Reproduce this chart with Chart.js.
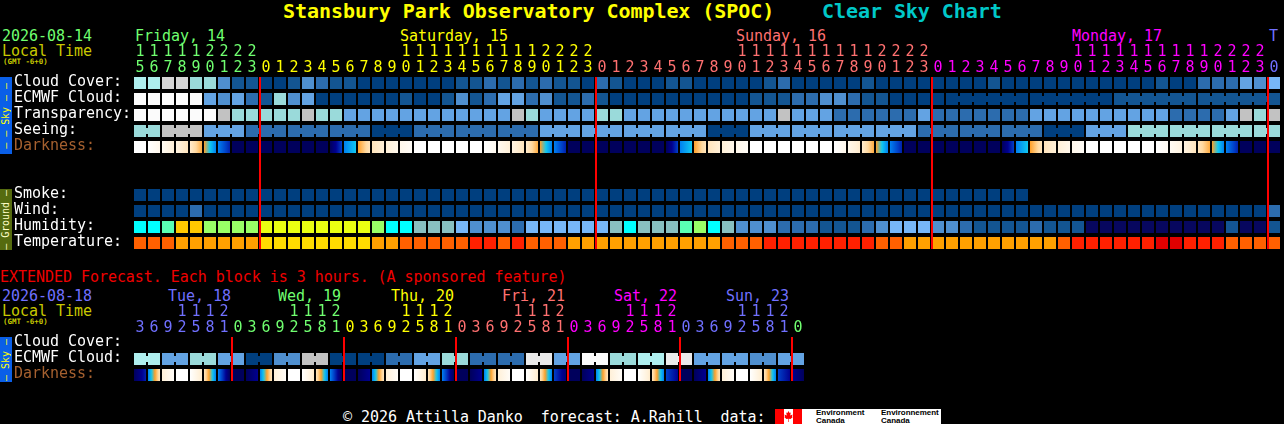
<!DOCTYPE html>
<html>
<head>
<meta charset="utf-8">
<title>Stansbury Park Observatory Complex (SPOC) Clear Sky Chart</title>
<script src="https://cdn.jsdelivr.net/npm/chart.js@4/dist/chart.umd.min.js"></script>
<style>
html, body { margin: 0; background: #000; width: 1284px; height: 424px; overflow: hidden; }
body { position: relative; font: 15px/16px "DejaVu Sans Mono", monospace; letter-spacing: -0.04px; }
canvas { position: absolute; left: 0; }
.t { position: absolute; white-space: pre; }
.gmt { font-size: 7.5px; line-height: 8px; font-weight: bold; color: #c8c800; }
.title { font-size: 20px; line-height: 22px; font-weight: bold; letter-spacing: -0.06px; }
.band { position: absolute; left: 0; width: 12px; display: flex; align-items: center; justify-content: center; }
.band span { writing-mode: vertical-rl; transform: rotate(180deg); font-size: 10px; line-height: 12px; white-space: pre; }
#logo { position: absolute; left: 775px; top: 409px; width: 166px; height: 15px; background: #fff; overflow: hidden; }
#logo i { position: absolute; top: 0; width: 9px; height: 15px; background: #f00; }
#logo svg { position: absolute; left: 9px; top: 1px; }
#logo b { position: absolute; font: bold 8px/8px "Liberation Sans", sans-serif; color: #000; white-space: pre; }
</style>
</head>
<body>
<div class="t title" style="left:283px;top:0;color:#ffff00">Stansbury Park Observatory Complex (SPOC)</div>
<div class="t title" style="left:822px;top:0;color:#00c8c8">Clear Sky Chart</div>

<div class="t" style="left:2px;top:28px;color:#70ff70">2026-08-14</div>
<div class="t" style="left:2px;top:43px;color:#c8c800">Local Time</div>
<div class="t gmt" style="left:3px;top:58px">(GMT -6+0)</div>
<div class="t" style="left:135px;top:28px;color:#70ff70">Friday, 14</div>
<div class="t" style="left:400px;top:28px;color:#ffff00">Saturday, 15</div>
<div class="t" style="left:736px;top:28px;color:#ff7070">Sunday, 16</div>
<div class="t" style="left:1072px;top:28px;color:#ff00ff">Monday, 17</div>
<div class="t" style="left:1269px;top:28px;color:#7070ff">T</div>

<div class="band" style="top:77px;height:77px;background:#0a5fe8;color:#ffff00"><span>— — Sky — —</span></div>
<div class="band" style="top:189px;height:61px;background:#556b0f;color:#ffffc8"><span>— Ground —</span></div>
<div class="band" style="top:337px;height:45px;background:#0a5fe8;color:#ffff00"><span>— Sky —</span></div>

<div class="t" style="left:0;top:269px;color:#f00000">EXTENDED Forecast. Each block is 3 hours. (A sponsored feature)</div>
<div class="t" style="left:2px;top:288px;color:#7070ff">2026-08-18</div>
<div class="t" style="left:2px;top:303px;color:#c8c800">Local Time</div>
<div class="t gmt" style="left:3px;top:318px">(GMT -6+0)</div>
<div class="t" style="left:168px;top:288px;color:#7070ff">Tue, 18</div>
<div class="t" style="left:278px;top:288px;color:#70ff70">Wed, 19</div>
<div class="t" style="left:391px;top:288px;color:#ffff00">Thu, 20</div>
<div class="t" style="left:502px;top:288px;color:#ff7070">Fri, 21</div>
<div class="t" style="left:614px;top:288px;color:#ff00ff">Sat, 22</div>
<div class="t" style="left:726px;top:288px;color:#7070ff">Sun, 23</div>

<canvas id="topChart" style="top:0" width="1284" height="251"></canvas>
<canvas id="extChart" style="top:280px" width="1284" height="103"></canvas>

<div class="t" style="left:343px;top:409px;color:#fff">© 2026 Attilla Danko  forecast: A.Rahill  data:</div>
<div id="logo">
  <i style="left:0"></i><i style="left:18px"></i>
  <svg width="9" height="13" viewBox="0 0 9 13"><path fill="#f00" d="M4.5 1 L5.6 3 L6.8 2.6 L6.2 5.4 L8.6 4.6 L8 6.4 L8.8 7 L6.6 9 L4.8 8.8 L4.8 12 L4.2 12 L4.2 8.8 L2.4 9 L0.2 7 L1 6.4 L0.4 4.6 L2.8 5.4 L2.2 2.6 L3.4 3 Z"/></svg>
  <b style="left:41px;top:0">Environment</b><b style="left:41px;top:8px">Canada</b>
  <b style="left:106px;top:0">Environnement</b><b style="left:106px;top:8px">Canada</b>
</div>

<script>
// colours for cloud, transparency, seeing, smoke and wind levels (clear to overcast)
const skyPalette = ['#003f7f', '#135592', '#2c6cae', '#4f8fcf', '#63a3e3', '#77b7f7',
    '#9adada', '#aeeeee', '#c2c2c2', '#d6d6d6', '#eaeaea', '#fbfbfb'];
const humidityPalette = ['#07075e', '#135592', '#2c6cae', '#4f8fcf', '#63a3e3', '#77b7f7',
    '#88c0c0', '#00ffff', '#5affb4', '#99ff66', '#eaff12', '#ffc800'];
const tempPalette = ['#e00000', '#ff2000', '#ff6000', '#ffa000', '#ffdc00'];
// darkness goes day (0) -> twilight -> night (8)
const darkRamp = ['#ffffff', '#fff0d8', '#ffd9a0', '#ffa028', '#10c8f0', '#0080f0', '#0040c8', '#000090', '#00005c'];

const topRowLabels = ['Cloud Cover:', 'ECMWF Cloud:', 'Transparency:', 'Seeing:', 'Darkness:', '', '',
    'Smoke:', 'Wind:', 'Humidity:', 'Temperature:'];
const extRowLabels = ['Cloud Cover:', 'ECMWF Cloud:', 'Darkness:'];

const topHours = [15, 16, 17, 18, 19, 20, 21, 22, 23,
    0, 1, 2, 3, 4, 5, 6, 7, 8, 9, 10, 11, 12, 13, 14, 15, 16, 17, 18, 19, 20, 21, 22, 23,
    0, 1, 2, 3, 4, 5, 6, 7, 8, 9, 10, 11, 12, 13, 14, 15, 16, 17, 18, 19, 20, 21, 22, 23,
    0, 1, 2, 3, 4, 5, 6, 7, 8, 9, 10, 11, 12, 13, 14, 15, 16, 17, 18, 19, 20, 21, 22, 23,
    0];
const extHours = [3, 6, 9, 12, 15, 18, 21,
    0, 3, 6, 9, 12, 15, 18, 21,
    0, 3, 6, 9, 12, 15, 18, 21,
    0, 3, 6, 9, 12, 15, 18, 21,
    0, 3, 6, 9, 12, 15, 18, 21,
    0, 3, 6, 9, 12, 15, 18, 21,
    0];
const topDayStarts = [0, 9, 33, 57, 81];
const topDayColors = ['#70ff70', '#ffff00', '#ff7070', '#ff00ff', '#7070ff'];
const extDayStarts = [0, 7, 15, 23, 31, 39, 47];
const extDayColors = ['#7070ff', '#70ff70', '#ffff00', '#ff7070', '#ff00ff', '#7070ff', '#70ff70'];
const topMidnights = [9, 33, 57, 81];
const extMidnights = [7, 15, 23, 31, 39, 47];

const cloudCover = [
    7, 7, 9, 9, 6, 6, 3, 1, 1, 0,
    0, 1, 3, 2, 1, 1, 0, 0, 0, 0,
    0, 0, 0, 1, 1, 2, 1, 2, 1, 2,
    1, 1, 0, 2, 1, 0, 0, 0, 1, 1,
    0, 0, 0, 0, 0, 1, 2, 0, 0, 0,
    0, 0, 1, 0, 0, 0, 0, 0, 0, 0,
    0, 1, 0, 0, 0, 0, 0, 0, 0, 0,
    0, 0, 0, 1, 0, 0, 2, 2, 2, 4, 3, 5];
const ecmwfCloud = [
    11, 11, 11, 11, 11, 4, 3, 4, 2, 1,
    6, 3, 4, 0, 0, 0, 0, 0, 0, 1,
    0, 0, 1, 3, 1, 2, 4, 4, 2, 3,
    1, 1, 2, 1, 0, 0, 0, 0, 0, 0,
    0, 0, 0, 0, 1, 1, 1, 2, 2, 3,
    3, 2, 1, 1, 0, 0, 0, 0, 0, 0,
    0, 0, 0, 0, 0, 0, 0, 0, 0, 0,
    1, 1, 1, 1, 1, 1, 1, 1, 1, 1, 1, 1];
const transparency = [
    11, 11, 11, 11, 11, 11, 8, 6, 6, 6,
    6, 6, 8, 6, 6, 4, 4, 4, 4, 4,
    4, 4, 4, 4, 4, 4, 4, 8, 6, 4,
    4, 4, 4, 6, 6, 4, 4, 4, 4, 4,
    4, 4, 4, 4, 4, 4, 8, 4, 4, 4,
    2, 2, 2, 2, 2, 2, 4, 2, 2, 2,
    2, 2, 2, 2, 4, 4, 4, 4, 4, 4,
    4, 4, 4, 4, 2, 2, 2, 2, 4, 8, 6, 8];
const seeing = [
    6, 6, 8, 8, 8, 4, 4, 4, 2, 2,
    2, 2, 2, 2, 2, 2, 2, 0, 0, 0,
    2, 2, 2, 2, 2, 2, 2, 2, 2, 4,
    4, 4, 4, 4, 4, 4, 4, 4, 4, 4,
    4, 0, 0, 0, 4, 4, 4, 4, 4, 4,
    4, 4, 4, 4, 4, 4, 2, 2, 2, 2,
    2, 2, 2, 2, 2, 0, 0, 0, 4, 4,
    4, 6, 6, 6, 6, 6, 6, 6, 6, 6, 6, 6];
const darkStart = [
    0, 0, 0.3, 0.8, 1.2, 3, 5, 8, 8, 8,
    8, 8, 8, 8, 8, 5, 3, 1.5, 1, 0.5,
    0, 0, 0, 0, 0, 0, 0.4, 0.8, 1.2, 3,
    5, 8, 8, 8, 8, 8, 8, 8, 8, 5,
    3, 1.5, 1, 0.5, 0, 0, 0, 0, 0, 0,
    0, 0.5, 1.2, 3, 5, 8, 8, 8, 8, 8,
    8, 8, 8, 5, 3, 1.5, 1, 0.5, 0, 0,
    0, 0, 0, 0, 0.3, 0.8, 1.5, 3, 5, 8, 8, 8];
const darkEnd = [
    0, 0.5, 1, 1.5, 2.8, 5, 6.5, 8, 8, 8,
    8, 8, 8, 8, 6, 4, 1.5, 1, 0.5, 0.2,
    0, 0, 0, 0, 0, 0.4, 1, 1.5, 2.8, 5,
    6.5, 8, 8, 8, 8, 8, 8, 8, 6, 4,
    1.5, 1, 0.5, 0.2, 0, 0, 0, 0, 0, 0,
    0.5, 1.2, 2.8, 5, 6.5, 8, 8, 8, 8, 8,
    8, 8, 6, 4, 1.5, 1, 0.5, 0.2, 0, 0,
    0, 0, 0, 0.3, 0.8, 1.5, 2.8, 5, 6.5, 8, 8, 8];
const smoke = [
    0, 0, 0, 0, 0, 0, 0, 0, 0, 0,
    0, 0, 0, 0, 0, 0, 0, 0, 0, 0,
    0, 0, 0, 0, 0, 0, 0, 0, 0, 0,
    0, 0, 0, 0, 0, 0, 0, 0, 0, 0,
    0, 0, 0, 0, 0, 0, 0, 0, 0, 0,
    0, 0, 0, 0, 0, 0, 0, 0, 0, 0,
    0, 0, 0, 0];
const wind = [
    0, 0, 0, 0, 2, 0, 0, 0, 0, 0,
    0, 0, 0, 0, 0, 0, 0, 0, 0, 0,
    0, 0, 0, 0, 0, 0, 0, 0, 0, 0,
    0, 0, 0, 0, 0, 0, 0, 0, 0, 0,
    0, 0, 0, 0, 0, 0, 0, 0, 0, 0,
    0, 0, 0, 0, 0, 0, 0, 0, 0, 0,
    0, 0, 0, 0, 0, 0, 0, 0, 0, 0,
    0, 0, 0, 0, 0, 0, 0, 0, 0, 0, 0, 2];
const humidity = [
    7, 7, 8, 11, 11, 9, 9, 9, 9, 10,
    10, 10, 10, 10, 10, 10, 10, 9, 7, 7,
    6, 6, 6, 5, 3, 3, 3, 2, 5, 5,
    5, 5, 5, 5, 6, 7, 6, 6, 6, 8,
    9, 7, 6, 3, 3, 3, 2, 2, 2, 1,
    1, 1, 2, 3, 5, 5, 5, 3, 3, 2,
    1, 1, 1, 1, 2, 1, 1, 1, 0, 0,
    0, 0, 0, 0, 0, 0, 0, 0, 1, 0, 0, 1];
const temperature = [
    2, 2, 2, 3, 3, 3, 3, 3, 3, 4,
    4, 4, 4, 4, 4, 4, 4, 3, 3, 2,
    2, 2, 2, 2, 1, 1, 2, 1, 2, 2,
    2, 3, 3, 3, 3, 3, 3, 3, 3, 3,
    3, 3, 2, 2, 2, 1, 1, 1, 1, 1,
    1, 1, 1, 2, 2, 3, 3, 3, 3, 3,
    3, 3, 3, 3, 3, 3, 2, 1, 1, 1,
    1, 1, 1, 0, 0, 1, 1, 1, 2, 2, 2, 2];

// cells that belong to one forecast block are tied to the next one
const seeingJoins = [0, 2, 3, 5, 6, 8, 9, 11, 12, 14, 15, 17, 18, 20, 21, 23, 24, 26, 27, 29, 30, 32, 33, 35, 36,
    38, 39, 41, 42, 44, 45, 47, 48, 50, 51, 53, 54, 56, 57, 59, 60, 62, 63, 65, 66, 68, 69, 71, 72, 74, 75, 77, 78, 80];
const ecmwfJoins = [58, 59, 60, 61, 62, 64, 65, 66, 67, 68, 70, 71, 72, 73, 74, 76, 77, 78, 79, 80];

const extEcmwfCloud = [7, 7, 4, 4, 6, 6, 4, 4, 0, 0, 3, 3, 8, 8, 0, 0, 0, 0, 2, 2, 4, 4, 6, 6,
    2, 2, 2, 2, 10, 10, 4, 4, 11, 11, 6, 6, 7, 7, 10, 10, 4, 4, 4, 4, 3, 3, 4, 4];
const extEcmwfJoins = [0, 2, 4, 6, 8, 10, 12, 14, 16, 18, 20, 22, 24, 26, 28, 30, 32, 34, 36, 38, 40, 42, 44, 46];
const extDarkStart = [8, 5, 1, 0, 0, 1.5, 5, 8,
    8, 5, 1, 0, 0, 1.5, 5, 8,
    8, 5, 1, 0, 0, 1.5, 5, 8,
    8, 5, 1, 0, 0, 1.5, 6, 8,
    8, 5, 1, 0, 0, 1.5, 6, 8,
    8, 5, 1, 0, 0, 1.5, 6, 7];
const extDarkEnd = [6.5, 1.5, 0.2, 0, 1.2, 5, 8, 8,
    7, 1.5, 0.2, 0, 1.2, 5, 8, 8,
    7, 1.5, 0.2, 0, 1.2, 5, 8, 8,
    7, 1.5, 0.2, 0, 1.2, 5, 7.5, 8,
    7, 1.5, 0.2, 0, 1.2, 5, 7, 8,
    7, 1.5, 0.2, 0, 1.2, 5, 7, 8];

const CELL = 12, HALF_ROW = 0.375, NECK = 0.1875, LINE_OFFSET = 0.43, LABEL_LIFT = 0.04;
const FONT = '"DejaVu Sans Mono", monospace';

function hexToRgb(hex) {
    return [1, 3, 5].map(k => parseInt(hex.slice(k, k + 2), 16));
}

function darkColor(v) {
    const lo = Math.floor(v), hi = Math.min(lo + 1, darkRamp.length - 1), f = v - lo;
    const a = hexToRgb(darkRamp[lo]), b = hexToRgb(darkRamp[hi]);
    return `rgb(${a.map((c, k) => Math.round(c + (b[k] - c) * f)).join(',')})`;
}

function baseBar(extra) {
    return Object.assign({ type: 'bar', barThickness: CELL, grouped: false, borderWidth: 0, inflateAmount: 0 }, extra);
}

function cellRow(name, row, levels, palette) {
    return baseBar({
        label: name,
        data: levels.map((v, i) => ({ x: i, y: [row - HALF_ROW, row + HALF_ROW] })),
        backgroundColor: levels.map(v => palette[v])
    });
}

function joinRow(name, row, joins, levels, palette) {
    return baseBar({
        label: name + ' blocks',
        barThickness: 2,
        data: joins.map(i => ({ x: i + 0.5, y: [row - NECK, row + NECK] })),
        backgroundColor: joins.map(i => palette[levels[i]])
    });
}

function darknessRow(row, starts, ends) {
    return baseBar({
        label: 'Darkness',
        data: starts.map((v, i) => ({ x: i, y: [row - HALF_ROW, row + HALF_ROW] })),
        backgroundColor(ctx) {
            if (ctx.dataIndex === undefined) return '#000';
            const i = ctx.dataIndex;
            const px = ctx.chart.scales.x.getPixelForValue(i);
            // the scale has no size yet on the very first pass
            if (!isFinite(px)) return '#000';
            const g = ctx.chart.ctx.createLinearGradient(px - CELL / 2, 0, px + CELL / 2, 0);
            for (let k = 0; k <= 12; k++) {
                g.addColorStop(k / 12, darkColor(starts[i] + (ends[i] - starts[i]) * k / 12));
            }
            return g;
        }
    });
}

function midnightLines(cols, lastRow) {
    return baseBar({
        label: 'Midnight',
        barThickness: 2,
        data: cols.map(c => ({ x: c - LINE_OFFSET, y: [-HALF_ROW, lastRow + HALF_ROW] })),
        backgroundColor: '#ff0000'
    });
}

function dayColor(i, starts, colors) {
    let k = 0;
    while (k + 1 < starts.length && starts[k + 1] <= i) k++;
    return colors[k];
}

// keep the plot area exactly where the cell grid has to sit
function clearScalePadding(s) {
    s.paddingLeft = s.paddingRight = s.paddingTop = s.paddingBottom = 0;
}

function makeChart(id, datasets, hours, rowLabels, dayStarts, dayColors, axisHeight, paddingRight) {
    return new Chart(document.getElementById(id), {
        data: { datasets },
        options: {
            responsive: false,
            animation: false,
            devicePixelRatio: 1,
            events: [],
            layout: { padding: { left: 14, right: paddingRight, top: 0, bottom: 0 } },
            plugins: { legend: { display: false }, tooltip: { enabled: false } },
            scales: {
                x: {
                    type: 'linear',
                    position: 'top',
                    offset: false,
                    min: -0.5,
                    max: hours.length - 0.5,
                    grid: { display: false, drawTicks: false },
                    border: { display: false },
                    afterBuildTicks: s => { s.ticks = hours.map((h, i) => ({ value: i })); },
                    afterFit: s => { s.height = axisHeight; clearScalePadding(s); },
                    ticks: {
                        autoSkip: false,
                        maxRotation: 0,
                        minRotation: 0,
                        padding: -1,
                        font: { family: FONT, size: 15, lineHeight: 16 / 15 },
                        color: ctx => dayColor(ctx.index, dayStarts, dayColors),
                        callback: v => {
                            const h = hours[v];
                            return [h >= 10 ? String(Math.floor(h / 10)) : '', String(h % 10)];
                        }
                    }
                },
                y: {
                    type: 'linear',
                    reverse: true,
                    offset: false,
                    min: -0.5,
                    max: rowLabels.length - 0.5,
                    grid: { display: false, drawTicks: false },
                    border: { display: false },
                    afterBuildTicks: s => { s.ticks = rowLabels.map((l, i) => ({ value: i - LABEL_LIFT })); },
                    afterFit: s => { s.width = 119; clearScalePadding(s); },
                    ticks: {
                        autoSkip: false,
                        crossAlign: 'far',
                        padding: 0,
                        font: { family: FONT, size: 15 },
                        color: ctx => rowLabels[ctx.index] === 'Darkness:' ? '#a5602f' : '#ffffff',
                        callback: v => rowLabels[Math.round(v)]
                    }
                }
            }
        }
    });
}

makeChart('topChart', [
    midnightLines(topMidnights, 10),
    cellRow('Cloud Cover', 0, cloudCover, skyPalette),
    cellRow('ECMWF Cloud', 1, ecmwfCloud, skyPalette),
    joinRow('ECMWF Cloud', 1, ecmwfJoins, ecmwfCloud, skyPalette),
    cellRow('Transparency', 2, transparency, skyPalette),
    cellRow('Seeing', 3, seeing, skyPalette),
    joinRow('Seeing', 3, seeingJoins, seeing, skyPalette),
    darknessRow(4, darkStart, darkEnd),
    cellRow('Smoke', 7, smoke, skyPalette),
    cellRow('Wind', 8, wind, skyPalette),
    cellRow('Humidity', 9, humidity, humidityPalette),
    cellRow('Temperature', 10, temperature, tempPalette)
], topHours, topRowLabels, topDayStarts, topDayColors, 75, 3);

makeChart('extChart', [
    midnightLines(extMidnights, 2),
    cellRow('ECMWF Cloud', 1, extEcmwfCloud, skyPalette),
    joinRow('ECMWF Cloud', 1, extEcmwfJoins, extEcmwfCloud, skyPalette),
    darknessRow(2, extDarkStart, extDarkEnd)
], extHours, extRowLabels, extDayStarts, extDayColors, 55, 479);
</script>
</body>
</html>
